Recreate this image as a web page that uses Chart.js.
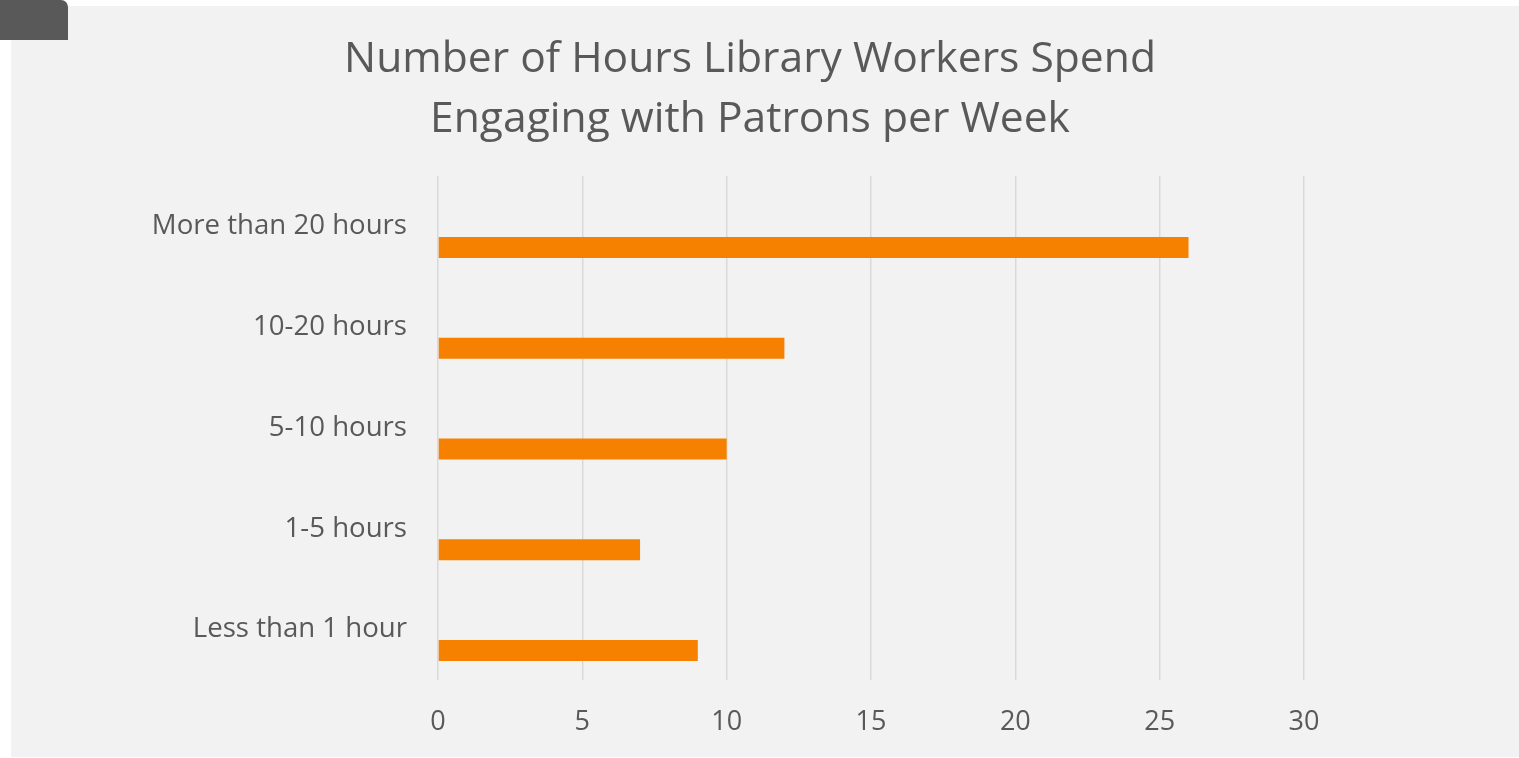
<!DOCTYPE html>
<html>
<head>
<meta charset="utf-8">
<script src="https://cdn.jsdelivr.net/npm/chart.js@4"></script>
<style>
  html, body { margin: 0; padding: 0; background: #ffffff; }
  body { width: 1519px; height: 758px; position: relative; overflow: hidden; }
  #panel { position: absolute; left: 11px; top: 6px; width: 1508px; height: 751px; background: #f2f2f2; }
  #tab { position: absolute; left: 0; top: 0; width: 68px; height: 40px; background: #595959; border-top-right-radius: 7px; }
</style>
</head>
<body>
<div id="panel"><canvas id="chart" width="1508" height="751"></canvas></div>
<div id="tab"></div>
<script>
const categories = ['More than 20 hours', '10-20 hours', '5-10 hours', '1-5 hours', 'Less than 1 hour'];
const hours = [26, 12, 10, 7, 9];
const emptySeries = [null, null, null, null, null];
const xTicks = [0, 5, 10, 15, 20, 25, 30];

const FONT = "'Open Sans', sans-serif";
const TEXT = '#595959';

const ctx = document.getElementById('chart').getContext('2d');
new Chart(ctx, {
  type: 'bar',
  data: {
    labels: categories,
    datasets: [
      // two empty series keep the Excel-style slot layout (bar sits low in its band)
      { label: 'a', data: emptySeries, backgroundColor: '#f58200' },
      { label: 'b', data: emptySeries, backgroundColor: '#f58200' },
      { label: 'Hours', data: hours, backgroundColor: '#f68100', borderWidth: 0 }
    ]
  },
  options: {
    indexAxis: 'y',
    responsive: false,
    animation: false,
    devicePixelRatio: 1,
    datasets: { bar: { categoryPercentage: 0.625, barPercentage: 1 } },
    layout: { padding: { left: 0, right: 30, top: 0, bottom: 0 } },
    plugins: {
      legend: { display: false },
      tooltip: { enabled: false },
      title: {
        display: true,
        text: ['Number of Hours Library Workers Spend', 'Engaging with Patrons per Week'],
        color: TEXT,
        font: { family: FONT, size: 42.6, weight: 'normal', lineHeight: 60 / 42.6 },
        padding: { top: 24, bottom: 26 }
      }
    },
    scales: {
      x: {
        min: 0,
        max: 30,
        afterBuildTicks: (axis) => { axis.ticks = xTicks.map(v => ({ value: v })); },
        afterFit: (axis) => { axis.height = 77; },
        border: { display: false },
        grid: { color: '#d9d9d9', lineWidth: 1.5, drawTicks: false },
        ticks: { color: TEXT, padding: 26, font: { family: FONT, size: 27 } }
      },
      y: {
        afterFit: (axis) => { axis.width = 427; },
        border: { display: false },
        grid: { display: false, drawTicks: false },
        ticks: { color: TEXT, padding: 31, font: { family: FONT, size: 27.6 } }
      },
      // empty space on the right of the plot (title still centred on the whole panel)
      gap: {
        type: 'linear',
        position: 'right',
        afterFit: (axis) => { axis.width = 185; },
        border: { display: false },
        grid: { display: false, drawTicks: false },
        ticks: { display: false }
      }
    }
  }
});
</script>
</body>
</html>
